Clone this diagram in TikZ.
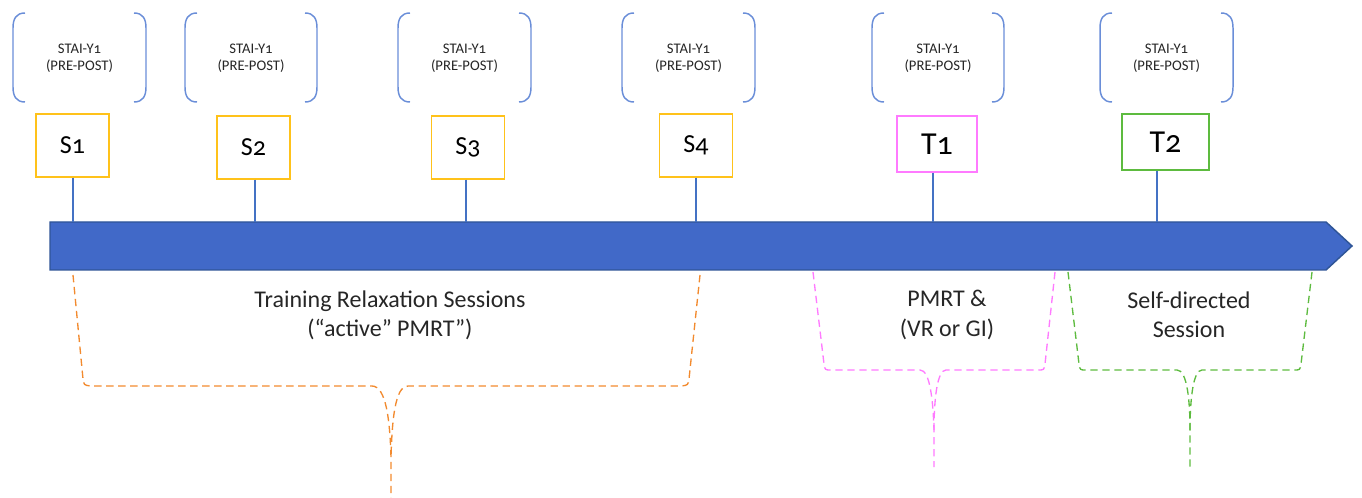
\documentclass[tikz,border=0pt]{standalone}
\usepackage{fontspec}
\setmainfont{Carlito}[Numbers=OldStyle]
\definecolor{barfill}{HTML}{4169C8}
\definecolor{bardraw}{HTML}{2F5597}
\definecolor{brkblue}{HTML}{6A8ED8}
\definecolor{lineblue}{HTML}{4472C4}
\definecolor{syellow}{HTML}{FFC21A}
\definecolor{tmag}{HTML}{FF7AFF}
\definecolor{tgreen}{HTML}{5DBB3F}
\definecolor{borange}{HTML}{F28A2E}
\definecolor{txt}{HTML}{262626}
\tikzset{
  brk/.style={draw=brkblue, line width=1.1pt},
  stai/.style={text=txt, align=center, font=\fontsize{11}{12.8}\selectfont},
  sbox/.style={draw=syellow, line width=1.1pt, minimum width=54.75pt, minimum height=47.25pt, text=black, font=\fontsize{19.5}{21}\selectfont, inner sep=0pt},
  tbox/.style={line width=1.1pt, minimum width=60pt, minimum height=42pt, text=black, font=\fontsize{24}{26}\selectfont, inner sep=0pt},
  conn/.style={draw=lineblue, line width=0.8pt},
  bar/.style={fill=barfill, draw=bardraw, line width=1.1pt, line join=miter},
  brace/.style={line width=1pt, dash pattern=on 5.5pt off 3.5pt},
  lbl/.style={text=txt, align=center, font=\fontsize{18}{22}\selectfont}
}
\newcommand\qbrack[2]{%
  \draw[brk] (#1+12,13) .. controls (#1+3,13) and (#1,19) .. (#1,28) -- (#1,87) .. controls (#1,96) and (#1+3,102) .. (#1+12,102);
  \draw[brk] (#2-12,13) .. controls (#2-3,13) and (#2,19) .. (#2,28) -- (#2,87) .. controls (#2,96) and (#2-3,102) .. (#2-12,102);
}
\begin{document}
\begin{tikzpicture}[x=0.75pt, y=-0.75pt]
\useasboundingbox (0,0) rectangle (1362,498);
% questionnaire brackets
\qbrack{13}{146}
\qbrack{185}{317}
\qbrack{398}{531}
\qbrack{622}{755}
\qbrack{872}{1004}
\qbrack{1100}{1233}
\node[stai] (q1) at (79.5,58.5) {STAI-Y1\\(PRE-POST)};
\node[stai] (q2) at (251,58.5) {STAI-Y1\\(PRE-POST)};
\node[stai] (q3) at (464.5,58.5) {STAI-Y1\\(PRE-POST)};
\node[stai] (q4) at (688.5,58.5) {STAI-Y1\\(PRE-POST)};
\node[stai] (q5) at (938,58.5) {STAI-Y1\\(PRE-POST)};
\node[stai] (q6) at (1166.5,58.5) {STAI-Y1\\(PRE-POST)};
% timeline bar
\draw[bar] (50,222) -- (1326,222) -- (1352,246) -- (1326,270) -- (50,270) -- cycle;
\coordinate (b1) at (73,222);
\coordinate (b2) at (255,222);
\coordinate (b3) at (466,222);
\coordinate (b4) at (696,222);
\coordinate (b5) at (933,222);
\coordinate (b6) at (1157,222);
% session boxes
\node[sbox] (s1) at (72.5,145.5) {S1\hspace{4.5pt}};
\node[sbox] (s2) at (253.5,147.5) {S2\hspace{4.5pt}};
\node[sbox] (s3) at (468,147.5) {S3\hspace{4.5pt}};
\node[sbox] (s4) at (696,145.5) {S4\hspace{4.5pt}};
\node[tbox, draw=tmag] (t1) at (937,144) {T1\hspace{6.75pt}};
\node[tbox, draw=tgreen, minimum width=65.25pt] (t2) at (1165.5,142) {T2\hspace{11pt}};
\draw[conn] (s1.south -| b1) -- (b1);
\draw[conn] (s2.south -| b2) -- (b2);
\draw[conn] (s3.south -| b3) -- (b3);
\draw[conn] (s4.south -| b4) -- (b4);
\draw[conn] (t1.south -| b5) -- (b5);
\draw[conn] (t2.south -| b6) -- (b6);
% braces
\draw[brace, borange] (73,275) -- (83,379) .. controls (84,385) .. (90,386) -- (372,386) .. controls (386,386) and (390,420) .. (391,458) -- (391,498);
\draw[brace, borange] (700,275) -- (689,379) .. controls (688,385) .. (682,386) -- (408,386) .. controls (395,386) and (392,420) .. (391,458);
\draw[brace, tmag] (813,272) -- (824,364) .. controls (825,370) .. (831,370) -- (920,370) .. controls (930,370) and (933,400) .. (934,430) -- (934,467);
\draw[brace, tmag] (1055,272) -- (1045,364) .. controls (1044,370) .. (1038,370) -- (946,370) .. controls (937,370) and (934,400) .. (934,430);
\draw[brace, tgreen] (1068,272) -- (1079,364) .. controls (1080,370) .. (1086,370) -- (1177,370) .. controls (1187,370) and (1190,400) .. (1190,430) -- (1190,467);
\draw[brace, tgreen] (1312,272) -- (1301,364) .. controls (1300,370) .. (1294,370) -- (1202,370) .. controls (1193,370) and (1190,400) .. (1190,430);
% labels
\node[lbl] (l1) at (390,315) {Training Relaxation Sessions\\(“active” PMRT”)};
\node[lbl] (l2) at (947,315) {PMRT \&\\(VR or GI)};
\node[lbl] (l3) at (1189,315) {Self-directed\\Session};
\end{tikzpicture}
\end{document}
